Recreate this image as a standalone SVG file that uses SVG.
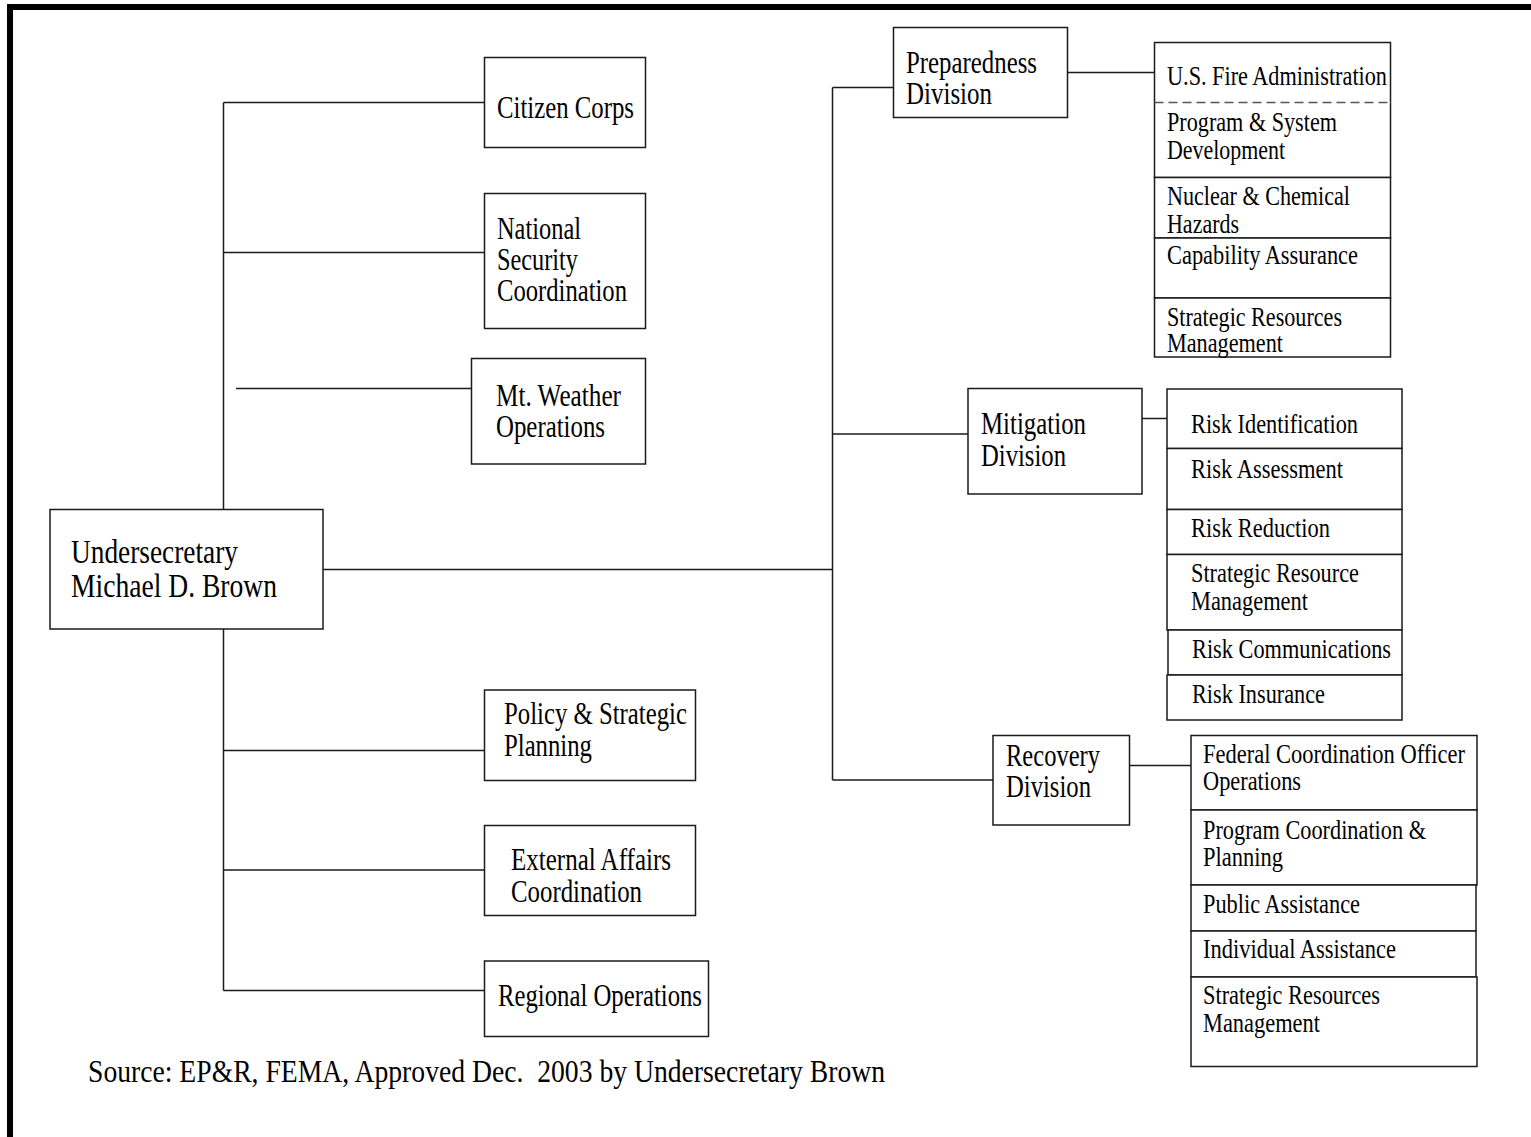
<svg xmlns="http://www.w3.org/2000/svg" width="1531" height="1137" viewBox="0 0 1531 1137">
<style>
  .box { fill: #fff; stroke: #1a1a1a; stroke-width: 1.5; }
  .edge { fill: none; stroke: #1a1a1a; stroke-width: 1.5; }
  .dash { fill: none; stroke: #555; stroke-width: 1.5; stroke-dasharray: 9 5; }
  .conn line { stroke: #1a1a1a; stroke-width: 1.5; }
  text { font-family: "Liberation Serif", "Times New Roman", serif; fill: #000; }
  .big { font-size: 31px; }
  .top { font-size: 33px; }
  .sm { font-size: 27px; }
  .src { font-size: 31px; }
</style>
<rect width="1531" height="1137" fill="#fff"/>
<g id="frame">
  <rect x="7" y="4" width="1524" height="6" fill="#000"/>
  <rect x="7" y="4" width="6" height="1133" fill="#000"/>
</g>
<g id="connectors" class="conn">
  <line x1="223.5" y1="102.5" x2="223.5" y2="509.5"/>
  <line x1="223.5" y1="629" x2="223.5" y2="990.5"/>
  <line x1="223.5" y1="102.5" x2="484.5" y2="102.5"/>
  <line x1="223.5" y1="252.5" x2="484.5" y2="252.5"/>
  <line x1="236" y1="388.5" x2="471.5" y2="388.5"/>
  <line x1="223.5" y1="750.5" x2="484.5" y2="750.5"/>
  <line x1="223.5" y1="870" x2="484.5" y2="870"/>
  <line x1="223.5" y1="990.5" x2="484.5" y2="990.5"/>
  <line x1="323" y1="569.5" x2="832.5" y2="569.5"/>
  <line x1="832.5" y1="87.5" x2="832.5" y2="780"/>
  <line x1="832.5" y1="87.5" x2="893.5" y2="87.5"/>
  <line x1="832.5" y1="434" x2="968" y2="434"/>
  <line x1="832.5" y1="780" x2="993" y2="780"/>
  <line x1="1067.5" y1="72.5" x2="1154.5" y2="72.5"/>
  <line x1="1142" y1="418.5" x2="1167" y2="418.5"/>
  <line x1="1129.5" y1="765.5" x2="1191" y2="765.5"/>
</g>
<g id="undersecretary">
  <rect class="box" x="50" y="509.5" width="273" height="119.5"/>
  <text class="top" x="71" y="563" textLength="167" lengthAdjust="spacingAndGlyphs">Undersecretary</text>
  <text class="top" x="71" y="597" textLength="206" lengthAdjust="spacingAndGlyphs">Michael D. Brown</text>
</g>
<g id="citizen-corps">
  <rect class="box" x="484.5" y="57.5" width="161" height="90"/>
  <text class="big" x="497" y="118" textLength="137" lengthAdjust="spacingAndGlyphs">Citizen Corps</text>
</g>
<g id="national-security">
  <rect class="box" x="484.5" y="193.5" width="161" height="135"/>
  <text class="big" x="497" y="239" textLength="84" lengthAdjust="spacingAndGlyphs">National</text>
  <text class="big" x="497" y="270" textLength="81" lengthAdjust="spacingAndGlyphs">Security</text>
  <text class="big" x="497" y="301" textLength="130" lengthAdjust="spacingAndGlyphs">Coordination</text>
</g>
<g id="mt-weather">
  <rect class="box" x="471.5" y="358.5" width="174" height="105.5"/>
  <text class="big" x="496" y="406" textLength="125" lengthAdjust="spacingAndGlyphs">Mt. Weather</text>
  <text class="big" x="496" y="437" textLength="109" lengthAdjust="spacingAndGlyphs">Operations</text>
</g>
<g id="policy">
  <rect class="box" x="484.5" y="690" width="211" height="90.5"/>
  <text class="big" x="504" y="724" textLength="183" lengthAdjust="spacingAndGlyphs">Policy &amp; Strategic</text>
  <text class="big" x="504" y="756" textLength="88" lengthAdjust="spacingAndGlyphs">Planning</text>
</g>
<g id="external-affairs">
  <rect class="box" x="484.5" y="825.5" width="211" height="90"/>
  <text class="big" x="511" y="870" textLength="160" lengthAdjust="spacingAndGlyphs">External Affairs</text>
  <text class="big" x="511" y="902" textLength="131" lengthAdjust="spacingAndGlyphs">Coordination</text>
</g>
<g id="regional-operations">
  <rect class="box" x="484.5" y="961" width="224" height="75.5"/>
  <text class="big" x="498" y="1006" textLength="204" lengthAdjust="spacingAndGlyphs">Regional Operations</text>
</g>
<g id="preparedness">
  <rect class="box" x="893.5" y="27.5" width="174" height="90"/>
  <text class="big" x="906" y="73" textLength="131" lengthAdjust="spacingAndGlyphs">Preparedness</text>
  <text class="big" x="906" y="104" textLength="86" lengthAdjust="spacingAndGlyphs">Division</text>
</g>
<g id="mitigation">
  <rect class="box" x="968" y="388.5" width="174" height="105.5"/>
  <text class="big" x="981" y="434" textLength="105" lengthAdjust="spacingAndGlyphs">Mitigation</text>
  <text class="big" x="981" y="466" textLength="85" lengthAdjust="spacingAndGlyphs">Division</text>
</g>
<g id="recovery">
  <rect class="box" x="993" y="735.5" width="136.5" height="89.5"/>
  <text class="big" x="1006" y="766" textLength="94" lengthAdjust="spacingAndGlyphs">Recovery</text>
  <text class="big" x="1006" y="797" textLength="85" lengthAdjust="spacingAndGlyphs">Division</text>
</g>
<g id="us-fire-administration">
  <path class="edge" d="M1154.5 102.5 V42.5 H1390.5 V102.5"/>
  <line class="dash" x1="1154.5" y1="102.5" x2="1390.5" y2="102.5"/>
  <text class="sm" x="1167" y="85" textLength="220" lengthAdjust="spacingAndGlyphs">U.S. Fire Administration</text>
</g>
<g id="program-system-development">
  <path class="edge" d="M1154.5 102.5 V177.5 H1390.5 V102.5"/>
  <text class="sm" x="1167" y="131" textLength="170" lengthAdjust="spacingAndGlyphs">Program &amp; System</text>
  <text class="sm" x="1167" y="159" textLength="118" lengthAdjust="spacingAndGlyphs">Development</text>
</g>
<g id="nuclear-chemical">
  <rect class="box" x="1154.5" y="177.5" width="236" height="60.5"/>
  <text class="sm" x="1167" y="205" textLength="183" lengthAdjust="spacingAndGlyphs">Nuclear &amp; Chemical</text>
  <text class="sm" x="1167" y="233" textLength="72" lengthAdjust="spacingAndGlyphs">Hazards</text>
</g>
<g id="capability-assurance">
  <rect class="box" x="1154.5" y="238" width="236" height="60"/>
  <text class="sm" x="1167" y="264" textLength="191" lengthAdjust="spacingAndGlyphs">Capability Assurance</text>
</g>
<g id="prep-strategic-resources">
  <rect class="box" x="1154.5" y="298" width="236" height="59"/>
  <text class="sm" x="1167" y="326" textLength="175" lengthAdjust="spacingAndGlyphs">Strategic Resources</text>
  <text class="sm" x="1167" y="352" textLength="116" lengthAdjust="spacingAndGlyphs">Management</text>
</g>
<g id="risk-identification">
  <rect class="box" x="1167" y="389" width="235" height="59.5"/>
  <text class="sm" x="1191" y="433" textLength="167" lengthAdjust="spacingAndGlyphs">Risk Identification</text>
</g>
<g id="risk-assessment">
  <rect class="box" x="1167" y="448.5" width="235" height="61"/>
  <text class="sm" x="1191" y="478" textLength="152" lengthAdjust="spacingAndGlyphs">Risk Assessment</text>
</g>
<g id="risk-reduction">
  <rect class="box" x="1167" y="509.5" width="235" height="45"/>
  <text class="sm" x="1191" y="537" textLength="139" lengthAdjust="spacingAndGlyphs">Risk Reduction</text>
</g>
<g id="mit-strategic-resource">
  <rect class="box" x="1167" y="554.5" width="235" height="75.5"/>
  <text class="sm" x="1191" y="582" textLength="168" lengthAdjust="spacingAndGlyphs">Strategic Resource</text>
  <text class="sm" x="1191" y="610" textLength="117" lengthAdjust="spacingAndGlyphs">Management</text>
</g>
<g id="risk-communications">
  <rect class="box" x="1168" y="630" width="234" height="45"/>
  <text class="sm" x="1192" y="658" textLength="199" lengthAdjust="spacingAndGlyphs">Risk Communications</text>
</g>
<g id="risk-insurance">
  <rect class="box" x="1167" y="675" width="235" height="45"/>
  <text class="sm" x="1192" y="703" textLength="133" lengthAdjust="spacingAndGlyphs">Risk Insurance</text>
</g>
<g id="fco-operations">
  <rect class="box" x="1191" y="735.5" width="286" height="74.5"/>
  <text class="sm" x="1203" y="763" textLength="262" lengthAdjust="spacingAndGlyphs">Federal Coordination Officer</text>
  <text class="sm" x="1203" y="790" textLength="98" lengthAdjust="spacingAndGlyphs">Operations</text>
</g>
<g id="program-coordination">
  <rect class="box" x="1191" y="810" width="286" height="75"/>
  <text class="sm" x="1203" y="839" textLength="223" lengthAdjust="spacingAndGlyphs">Program Coordination &amp;</text>
  <text class="sm" x="1203" y="866" textLength="80" lengthAdjust="spacingAndGlyphs">Planning</text>
</g>
<g id="public-assistance">
  <rect class="box" x="1191" y="885" width="285" height="46"/>
  <text class="sm" x="1203" y="913" textLength="157" lengthAdjust="spacingAndGlyphs">Public Assistance</text>
</g>
<g id="individual-assistance">
  <rect class="box" x="1191" y="931" width="285" height="46"/>
  <text class="sm" x="1203" y="958" textLength="193" lengthAdjust="spacingAndGlyphs">Individual Assistance</text>
</g>
<g id="rec-strategic-resources">
  <rect class="box" x="1191" y="977" width="286" height="89.5"/>
  <text class="sm" x="1203" y="1004" textLength="177" lengthAdjust="spacingAndGlyphs">Strategic Resources</text>
  <text class="sm" x="1203" y="1032" textLength="117" lengthAdjust="spacingAndGlyphs">Management</text>
</g>
<g id="source-note">
  <text class="src" x="88" y="1082" xml:space="preserve" textLength="797" lengthAdjust="spacingAndGlyphs">Source: EP&amp;R, FEMA, Approved Dec.  2003 by Undersecretary Brown</text>
</g>
</svg>
